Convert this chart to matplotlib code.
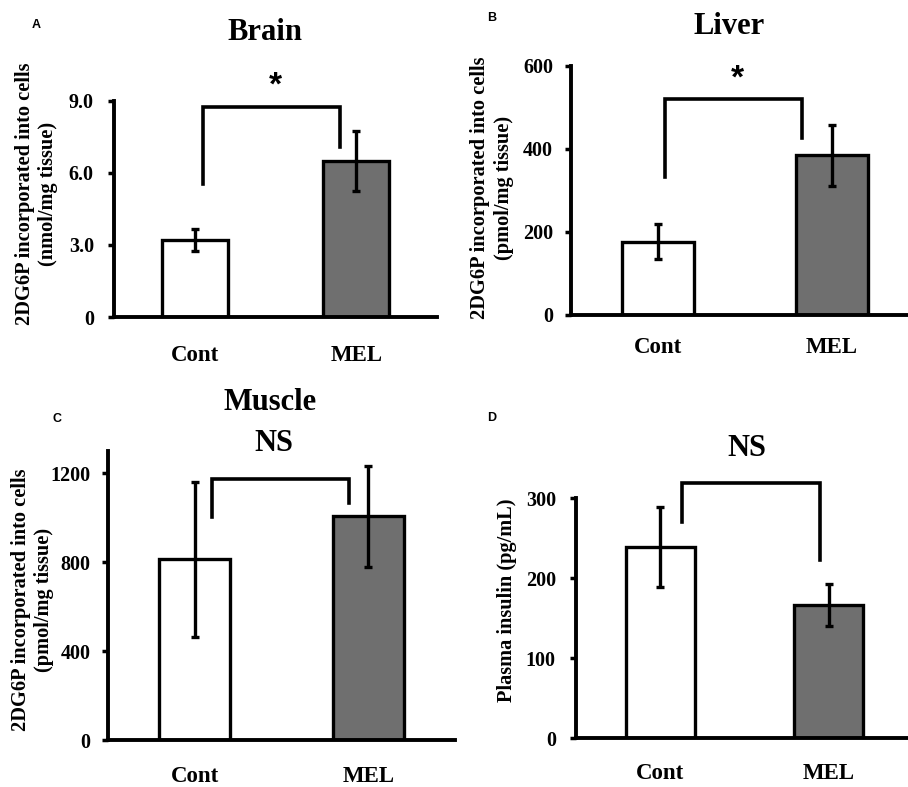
import numpy as np
import matplotlib
matplotlib.use('Agg')
import matplotlib.pyplot as plt

plt.rcParams['font.family'] = ['Liberation Serif', 'DejaVu Serif']
plt.rcParams['font.weight'] = 'bold'

groups = ['Cont', 'MEL']

brain_mean = [3.2, 6.5]
brain_err = [0.45, 1.27]
liver_mean = [177, 385]
liver_err = [43, 74]
muscle_mean = [812, 1006]
muscle_err = [347, 227]
insulin_mean = [239, 166]
insulin_err = [50, 26]

brain_ticks = [0, 3.0, 6.0, 9.0]
brain_ticklabels = ['0', '3.0', '6.0', '9.0']
liver_ticks = [0, 200, 400, 600]
muscle_ticks = [0, 400, 800, 1200]
insulin_ticks = [0, 100, 200, 300]

W, H = 908, 787
fig = plt.figure(figsize=(W / 100, H / 100), dpi=100)

bar_colors = ['white', '#6f6f6f']


def px_axes(left, top, right, bottom):
    return fig.add_axes([left / W, 1 - bottom / H, (right - left) / W, (bottom - top) / H])


def ftext(x, y, s, **kw):
    fig.text(x / W, 1 - y / H, s, **kw)


def draw_panel(ax, means, errs, ylim, ticks, ticklabels, ypad, xpad, bracket):
    x = np.arange(len(groups))
    ax.bar(x, means, width=0.41, color=bar_colors, edgecolor='black', linewidth=2.4, zorder=2)
    ax.errorbar(x, means, yerr=errs, fmt='none', ecolor='black', elinewidth=2.4,
                capsize=3.2, capthick=2.4, zorder=3)
    ax.set_xlim(-0.5, 1.5)
    ax.set_ylim(*ylim)
    ax.set_yticks(ticks)
    ax.set_yticklabels(ticklabels)
    ax.set_xticks(x)
    ax.set_xticklabels(groups)
    for s in ['top', 'right']:
        ax.spines[s].set_visible(False)
    for s in ['left', 'bottom']:
        ax.spines[s].set_linewidth(2.8)
    ax.tick_params(axis='y', length=4.5, width=2.5, pad=ypad, labelsize=14.5)
    ax.tick_params(axis='x', length=0, pad=xpad, labelsize=16.5)
    # bracket
    xl, xr, top, lb, rb = bracket
    ax.plot([xl, xl, xr, xr], [lb, top, top, rb], color='black', lw=2.6,
            clip_on=False, solid_joinstyle='miter', zorder=4)


# A: Brain
axA = px_axes(114, 101, 437, 317)
draw_panel(axA, brain_mean, brain_err, (0, 9.0), brain_ticks, brain_ticklabels,
           10, 20, (0.05, 0.90, 8.73, 5.56, 7.1))

# B: Liver
axB = px_axes(571, 66, 919, 315)
draw_panel(axB, liver_mean, liver_err, (0, 600), liver_ticks, [str(t) for t in liver_ticks],
           8.5, 16, (0.04, 0.83, 520, 333, 426))

# C: Muscle
axC = px_axes(108, 451, 455, 740)
draw_panel(axC, muscle_mean, muscle_err, (0, 1300), muscle_ticks, [str(t) for t in muscle_ticks],
           8, 19, (0.10, 0.89, 1176, 1004, 1064))

# D: Plasma insulin
axD = px_axes(576, 498, 913, 738)
draw_panel(axD, insulin_mean, insulin_err, (0, 300), insulin_ticks, [str(t) for t in insulin_ticks],
           10, 18, (0.13, 0.95, 319, 270, 222))

# y labels
ylab_kw = dict(rotation=90, ha='center', va='center', multialignment='center',
               fontsize=14.7, fontweight='bold')
ftext(37, 194, '2DG6P incorporated into cells\n(nmol/mg tissue)', **ylab_kw)
ftext(492, 188, '2DG6P incorporated into cells\n(pmol/mg tissue)', **ylab_kw)
ftext(33, 600, '2DG6P incorporated into cells\n(pmol/mg tissue)', **ylab_kw)
ftext(507, 600, 'Plasma insulin (pg/mL)', **ylab_kw)

# titles
title_kw = dict(ha='center', va='center', fontsize=22, fontweight='bold')
ftext(265, 33, 'Brain', **title_kw)
ftext(729, 27, 'Liver', **title_kw)
ftext(270, 402, 'Muscle', **title_kw)
ftext(274, 444, 'NS', **title_kw)
ftext(747, 449, 'NS', **title_kw)

# significance stars
ftext(275, 86, '*', ha='center', va='center', fontsize=24, fontweight='bold',
      family=['Liberation Sans'])
ftext(737, 79, '*', ha='center', va='center', fontsize=24, fontweight='bold',
      family=['Liberation Sans'])

# panel letters
letter_kw = dict(ha='center', va='center', fontsize=9, fontweight='bold',
                 family=['Liberation Sans'])
ftext(36, 25, 'A', **letter_kw)
ftext(492, 18, 'B', **letter_kw)
ftext(57, 419, 'C', **letter_kw)
ftext(492, 418, 'D', **letter_kw)

plt.savefig('out.png', dpi=100)
plt.close()
